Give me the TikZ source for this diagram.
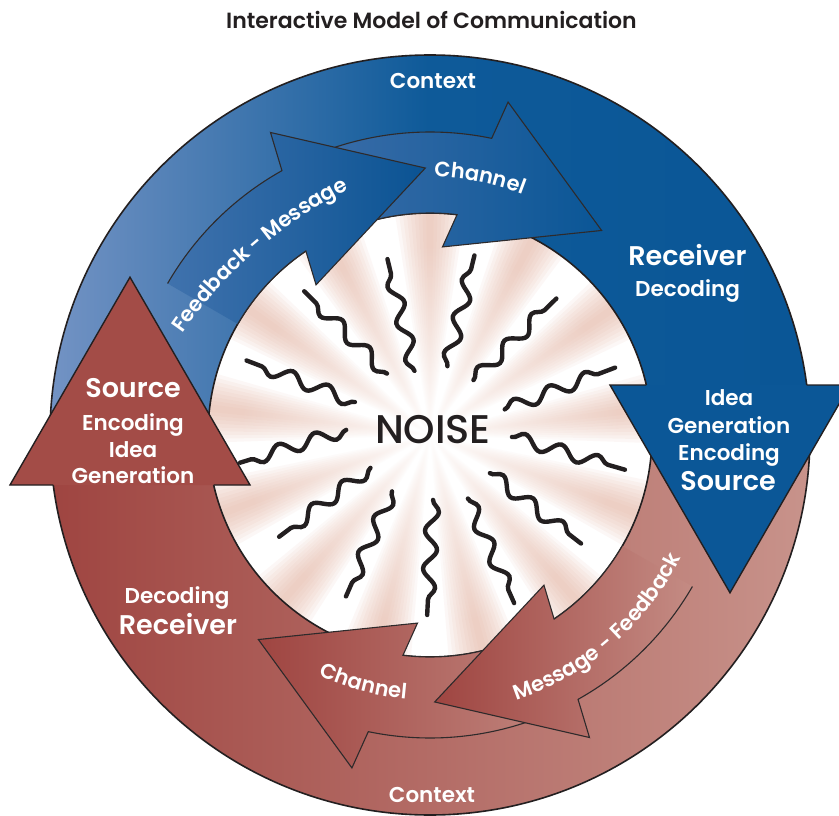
\documentclass[tikz,border=0pt]{standalone}
\usepackage{fontspec}
\setmainfont{Poppins}[BoldFont={Poppins SemiBold}]
\newfontfamily\noisefont{Poppins Medium}
\usetikzlibrary{decorations.pathmorphing,decorations.text,fadings}

\definecolor{inkdark}{HTML}{231F20}
\definecolor{arrowline}{HTML}{2E2A2B}
\definecolor{blueLight}{HTML}{7393C4}
\definecolor{blueMid}{HTML}{0E5A99}
\definecolor{blueDark}{HTML}{0A5696}
\definecolor{blueHead}{HTML}{0B5797}
\definecolor{chanBlue}{HTML}{3F6FAA}
\definecolor{fbBlue}{HTML}{4072AD}
\definecolor{fbDark}{HTML}{0A5393}
\definecolor{redDark}{HTML}{9F4541}
\definecolor{redLight}{HTML}{C8938B}
\definecolor{redHead}{HTML}{A34C47}
\definecolor{rayPink}{HTML}{E5B19D}

\tikzfading[name=noisefade, inner color=transparent!0, outer color=transparent!100]

\newcommand\curvefont{\bfseries\fontsize{21}{25}\selectfont}

% inner arrow running clockwise: #1 tip angle, #2 tail angle, #3 shading
\newcommand\innerarrow[3]{%
  \shade[#3, draw=arrowline, line width=1.1pt]
    (#2:303) arc[start angle=#2, end angle=#1+28.25, radius=303]
    -- (#1+26.8:342) -- (#1:267) -- (#1+36.2:188.5) -- (#1+33:222)
    arc[start angle=#1+33, end angle=#2, radius=222];
}

\tikzset{
  rim/.style={draw=inkdark, line width=1.6pt},
  headline/.style={draw=inkdark, line width=1.4pt, line join=miter},
  ringtext/.style={text=white, anchor=base, font=\bfseries\fontsize{21.5}{26}\selectfont},
  ringbig/.style={ringtext, font=\bfseries\fontsize{27}{32}\selectfont},
  squiggle/.style={draw=inkdark, line width=4.4pt, line cap=round, decorate,
    decoration={snake, segment length=38, amplitude=6.5}},
  curved/.style={decorate, decoration={text along path, text align=center,
    text color=white, text={|\curvefont|#1}}},
}

\begin{document}
\begin{tikzpicture}[x=1pt, y=1pt]
  % Parameters
  \def\Rout{380} % outer radius of the ring
  \def\Rin{222} % radius of the noise disc

  \useasboundingbox (-430,-380) rectangle (409,435);
  \clip (-430,-380) rectangle (409,435);

  % Upper half of the ring
  \shade[left color=blueLight, right color=blueDark, middle color=blueMid]
    (7.56:\Rout) arc[start angle=7.56, end angle=178.5, radius=\Rout]
    -- (177.4:\Rin) arc[start angle=177.4, end angle=13.02, radius=\Rin] -- cycle;

  % Lower half of the ring
  \shade[left color=redDark, right color=redLight]
    (187.56:\Rout) arc[start angle=187.56, end angle=358.5, radius=\Rout]
    -- (357.4:\Rin) arc[start angle=357.4, end angle=193.02, radius=\Rin] -- cycle;

  % Noise disc with its rays
  \fill[white] (0,0) circle (\Rin);
  \begin{scope}
    \clip (0,0) circle (\Rin);
    \foreach \k in {0,...,12} {
      \pgfmathsetmacro{\ray}{90-27.7*\k}
      \foreach \w in {1,2,...,9}
        \fill[rayPink, opacity=.09] (0,0) -- (\ray-\w:250) -- (\ray+\w:250) -- cycle;
    }
    \fill[white, path fading=noisefade] (0,0) circle (190);
  \end{scope}

  % Squiggles: inner angle/radius, outer angle/radius
  \foreach \ai/\ri/\ao/\ro in {103.6/66/103.6/181, 75.8/71/76.1/185, 125/75/131.2/191,
      51.6/70/47.2/186, 156.3/82/157.9/198, 18.9/79/20/197, 176.5/84/188.3/192,
      -1.4/82/-10.1/198, 208.9/68/214/182, -32.5/71/-35.7/186, 236/68/242.5/182,
      -59.2/74/-63.4/188, -87.3/65/-90.9/180}
    \draw[squiggle] (\ai:\ri) -- (\ao:\ro);

  \node[anchor=base, text=inkdark, font=\noisefont\fontsize{40}{48}\selectfont] (noise) at (3,-8) {NOISE};

  \draw[rim] (0,0) circle (\Rout);
  \draw[rim] (0,0) circle (\Rin);

  % Inner arrows
  \innerarrow{50}{118}{left color=chanBlue, right color=blueDark}
  \innerarrow{91}{150}{left color=fbBlue, right color=fbDark}
  \innerarrow{230}{298}{left color=redDark, right color=redLight!85!redDark}
  \innerarrow{271}{330}{left color=redDark, right color=redLight!90!redDark}

  % Heads of the ring
  \fill[blueHead] (180,50) -- (420,50) -- (300,-157.8) -- cycle;
  \draw[headline] (216.3,50) -- (180,50) -- (300,-157.8) -- (420,50) -- (376.7,50);
  \fill[redHead] (-180,-50) -- (-420,-50) -- (-300,157.8) -- cycle;
  \draw[headline] (-216.3,-50) -- (-180,-50) -- (-300,157.8) -- (-420,-50) -- (-376.7,-50);

  % Curved labels
  \path[curved=Feedback - Message]
    ([shift={(121,-155)}]150:449) arc[start angle=150, end angle=112, radius=449];
  \path[curved=Channel]
    (119:258) arc[start angle=119, end angle=39, radius=258];
  \path[curved=Message - Feedback]
    (-94:279) arc[start angle=-94, end angle=-4, radius=279];
  \path[curved=Channel]
    (225:265) arc[start angle=225, end angle=285, radius=265];

  % Labels
  \node[anchor=base, text=inkdark, font=\bfseries\fontsize{22}{28}\selectfont] (title) at (1.5,406.7)
    {Interactive Model of Communication};
  \node[ringtext] (ctxtop) at (3,347) {Context};
  \node[ringtext] (ctxbot) at (2,-367) {Context};

  \node[ringbig] (recvR) at (257.5,170) {Receiver};
  \node[ringtext] (decR) at (257.5,139) {Decoding};
  \node[ringtext] (ideaR) at (299,29.3) {Idea};
  \node[ringtext] (genR) at (299,2) {Generation};
  \node[ringtext] (encR) at (299,-25) {Encoding};
  \node[ringbig] (srcR) at (298,-55) {Source};

  \node[ringbig] (srcL) at (-297,38) {Source};
  \node[ringtext] (encL) at (-297,5) {Encoding};
  \node[ringtext] (ideaL) at (-297,-22) {Idea};
  \node[ringtext] (genL) at (-297,-48) {Generation};
  \node[ringtext] (decL) at (-253,-168) {Decoding};
  \node[ringbig] (recvL) at (-252,-199) {Receiver};
\end{tikzpicture}
\end{document}
